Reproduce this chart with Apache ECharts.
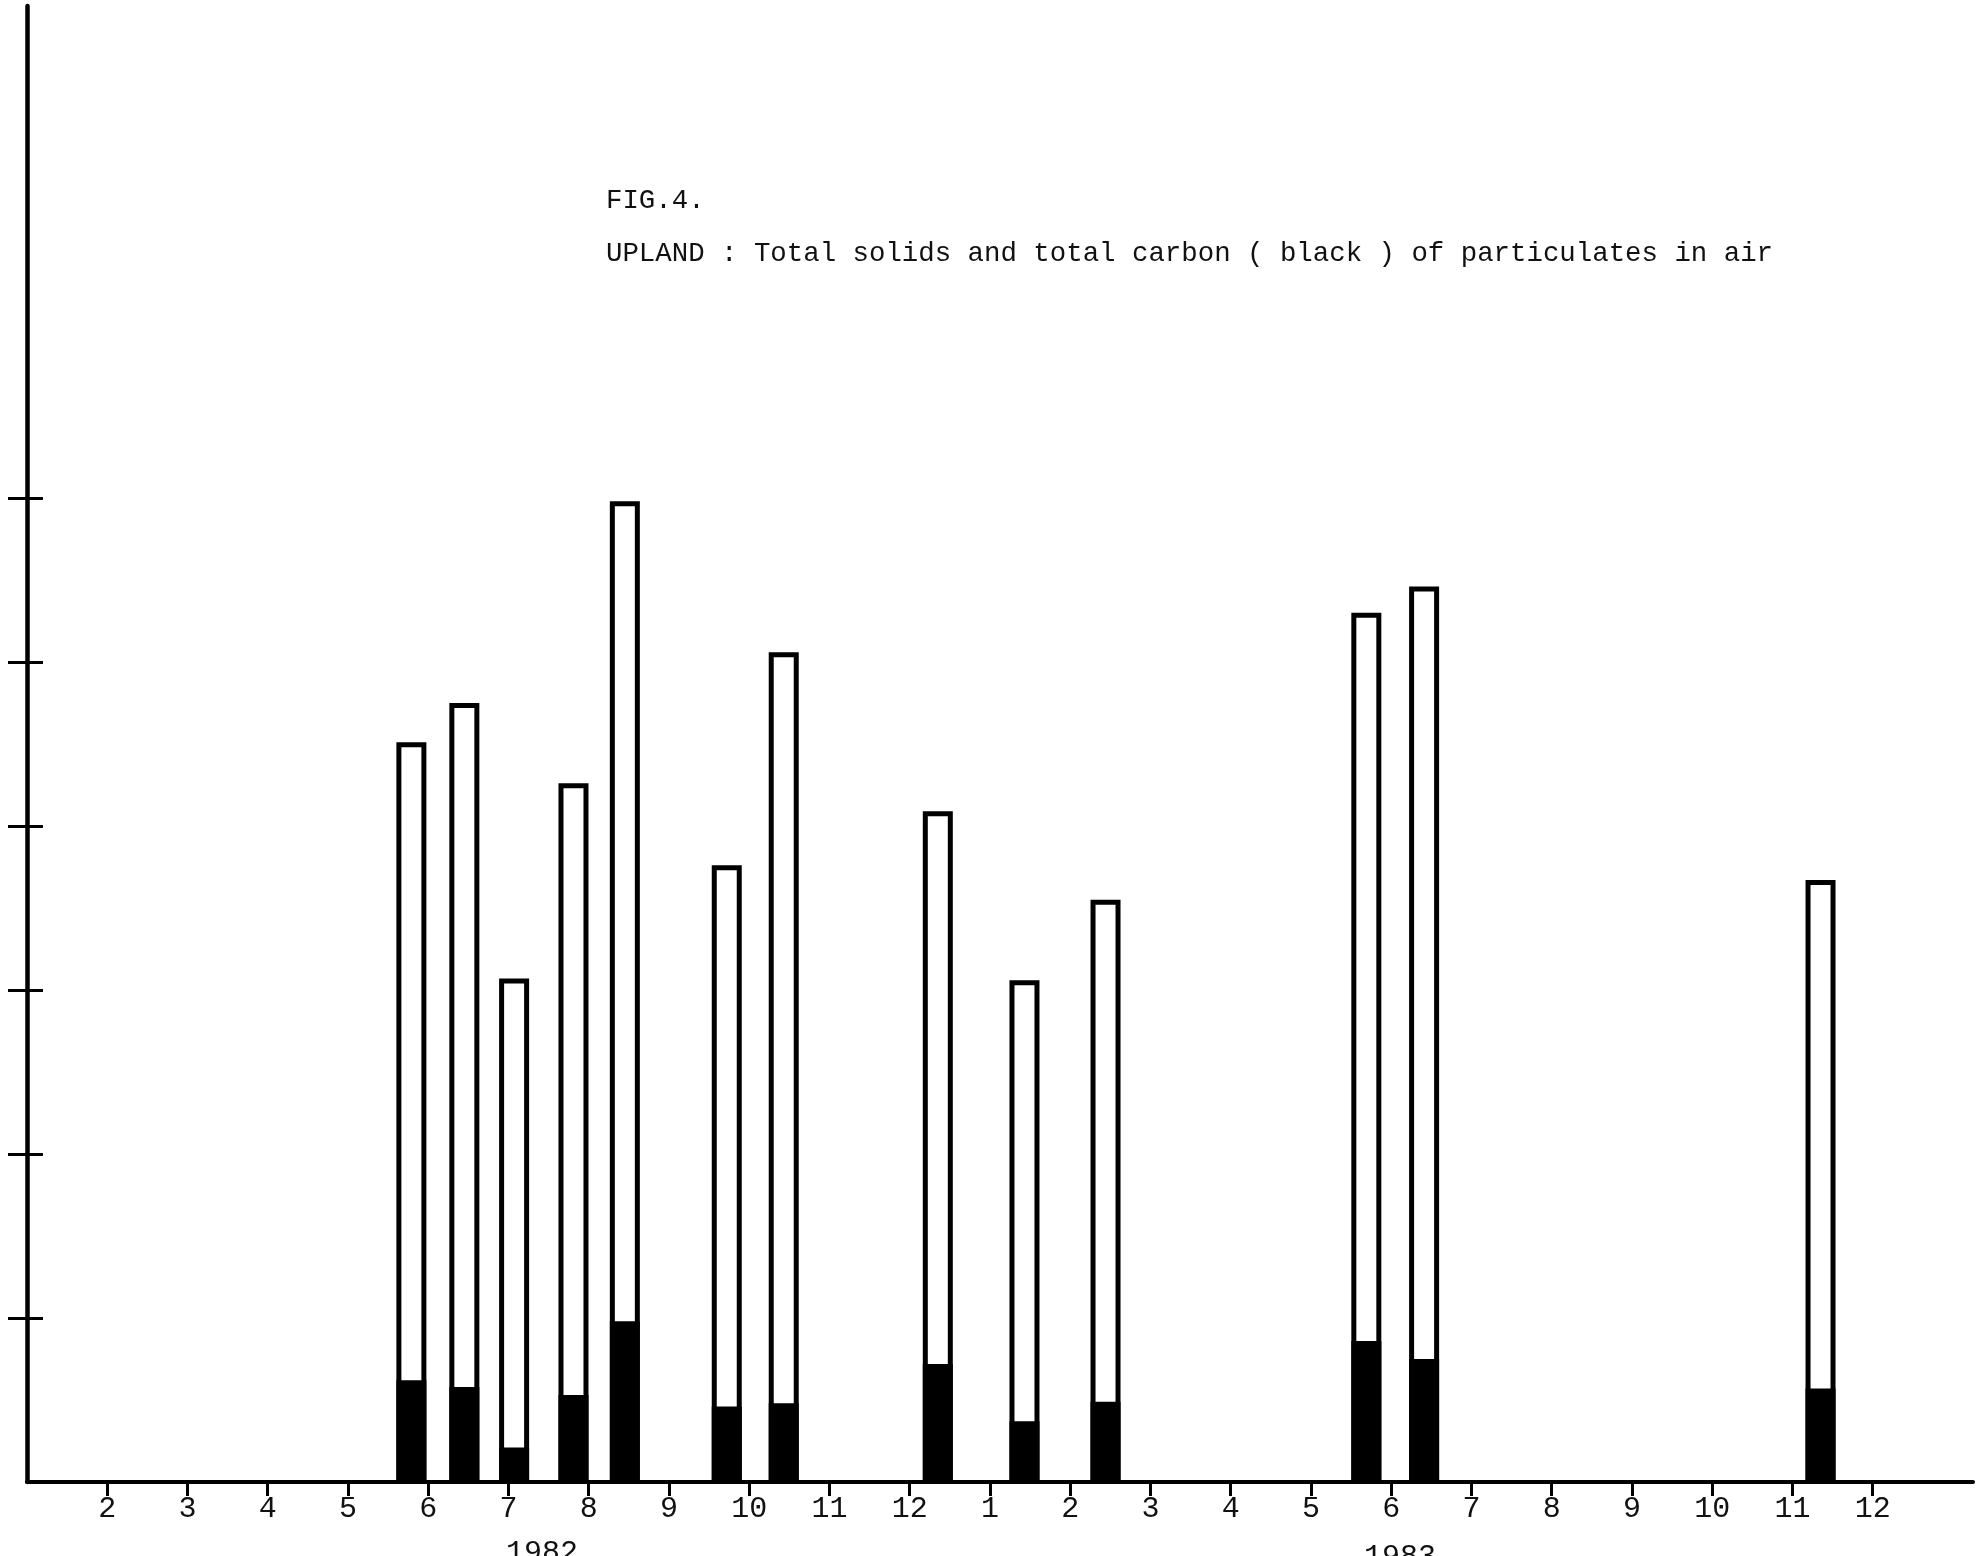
<!DOCTYPE html>
<html lang="en">

<head>
    <meta charset="UTF-8">
    <title>FIG.4 UPLAND</title>
    <script src="https://cdn.jsdelivr.net/npm/echarts@6/dist/echarts.min.js"></script>
    <style>
        html, body { margin: 0; padding: 0; background: #fff; }
        #main { width: 1986px; height: 1556px; }
    </style>
</head>

<body>
    <div id="main"></div>
    <script type="text/javascript">
        // sampling dates, in months counted from Jan 1982 (0 = Jan 1982)
        const sampleMonths = [4.79, 5.45, 6.07, 6.81, 7.45, 8.72, 9.43, 11.35, 12.43, 13.44, 16.69, 17.41, 22.35];
        // total solids (white bar, full height) and total carbon (black part)
        const totalSolids = [4.51, 4.75, 3.07, 4.26, 5.98, 3.76, 5.06, 4.09, 3.06, 3.55, 5.30, 5.46, 3.67];
        const totalCarbon = [0.62, 0.58, 0.21, 0.53, 0.98, 0.46, 0.48, 0.72, 0.37, 0.49, 0.86, 0.75, 0.57];

        // month ticks on the x axis
        const tickPositions = [1, 2, 3, 4, 5, 6, 7, 8, 9, 10, 11, 12, 13, 14, 15, 16, 17, 18, 19, 20, 21, 22, 23];
        const tickLabels = ['2', '3', '4', '5', '6', '7', '8', '9', '10', '11', '12',
            '1', '2', '3', '4', '5', '6', '7', '8', '9', '10', '11', '12'];
        const yTicks = [1, 2, 3, 4, 5, 6];

        const figLabel = 'FIG.4.';
        const figTitle = 'UPLAND : Total solids and total carbon ( black ) of particulates in air';
        const yearLabels = ['1982', '1983'];

        const mono = '"Liberation Mono", "DejaVu Sans Mono", monospace';

        var myChart = echarts.init(document.getElementById('main'));

        var option = {
            animation: false,
            backgroundColor: '#fff',
            grid: {
                left: 27,
                right: 13,
                top: 6,
                bottom: 74
            },
            xAxis: {
                type: 'value',
                min: 0,
                max: 24.25,
                splitLine: { show: false },
                axisLine: { lineStyle: { color: '#000', width: 4 } },
                axisTick: {
                    customValues: tickPositions,
                    length: 14,
                    lineStyle: { color: '#000', width: 3 }
                },
                axisLabel: {
                    customValues: tickPositions,
                    margin: 12,
                    color: '#111',
                    fontFamily: mono,
                    fontSize: 30,
                    formatter: function (v) {
                        return tickLabels[Math.round(v) - 1] || '';
                    }
                }
            },
            yAxis: [
                {
                    type: 'value',
                    position: 'left',
                    min: 0,
                    max: 9,
                    splitLine: { show: false },
                    axisLabel: { show: false },
                    axisLine: { show: true, lineStyle: { color: '#000', width: 4.5 } },
                    axisTick: {
                        customValues: yTicks,
                        length: 19,
                        lineStyle: { color: '#000', width: 3 }
                    }
                },
                {
                    // second copy only for the part of the ticks inside the plot
                    type: 'value',
                    position: 'left',
                    min: 0,
                    max: 9,
                    splitLine: { show: false },
                    axisLabel: { show: false },
                    axisLine: { show: false },
                    axisTick: {
                        show: true,
                        inside: true,
                        customValues: yTicks,
                        length: 16,
                        lineStyle: { color: '#000', width: 3 }
                    }
                }
            ],
            series: [
                {
                    name: 'Total solids',
                    type: 'bar',
                    barWidth: 30,
                    barGap: '-100%',
                    itemStyle: {
                        color: '#fff',
                        borderColor: '#000',
                        borderWidth: 5
                    },
                    data: sampleMonths.map(function (m, i) { return [m, totalSolids[i]]; })
                },
                {
                    name: 'Total carbon',
                    type: 'bar',
                    barWidth: 30,
                    barGap: '-100%',
                    itemStyle: {
                        color: '#000',
                        borderColor: '#000',
                        borderWidth: 5
                    },
                    data: sampleMonths.map(function (m, i) { return [m, totalCarbon[i]]; })
                }
            ],
            graphic: [
                {
                    type: 'text',
                    style: {
                        text: figLabel, x: 606, y: 201,
                        font: '27.4px ' + mono, fill: '#111', verticalAlign: 'middle'
                    }
                },
                {
                    type: 'text',
                    style: {
                        text: figTitle, x: 606, y: 254,
                        font: '27.4px ' + mono, fill: '#111', verticalAlign: 'middle'
                    }
                },
                {
                    type: 'text',
                    style: {
                        text: yearLabels[0], x: 542, y: 1553,
                        font: '30px ' + mono, fill: '#111', align: 'center', verticalAlign: 'middle'
                    }
                },
                {
                    type: 'text',
                    style: {
                        text: yearLabels[1], x: 1400, y: 1557,
                        font: '30px ' + mono, fill: '#111', align: 'center', verticalAlign: 'middle'
                    }
                }
            ]
        };

        myChart.setOption(option);
    </script>
</body>

</html>
